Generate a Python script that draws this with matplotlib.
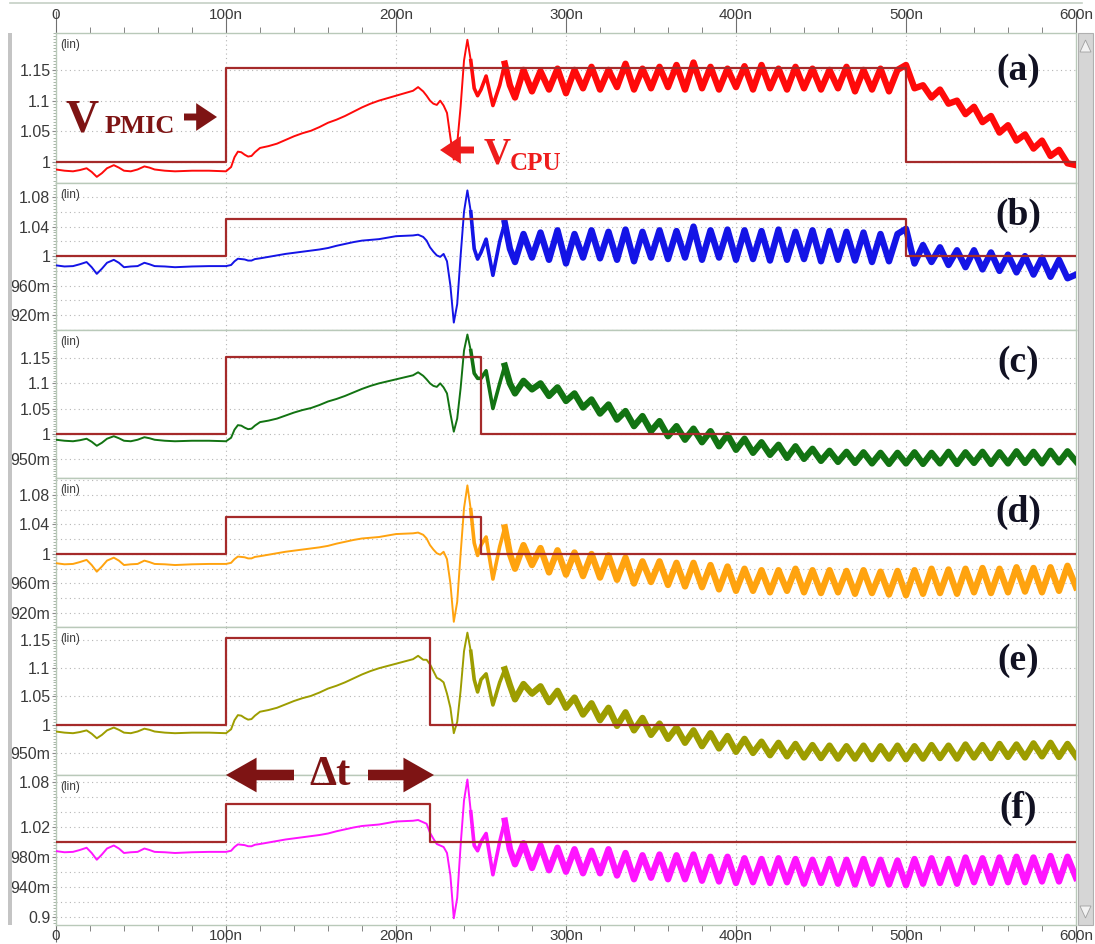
import numpy as np
import matplotlib.pyplot as plt
from matplotlib.ticker import FixedLocator, MultipleLocator, FuncFormatter
from matplotlib.patches import Rectangle, Polygon, FancyArrowPatch

# ---- data (time in ns, voltage in V) ----
early_t = [0, 5, 10, 14, 18, 21, 24, 27, 30, 34, 37, 40, 44, 48, 52, 55, 58, 64, 70, 80, 90,
           100, 103, 105, 107, 109, 111, 113, 115, 117, 120, 125, 130, 135, 140, 145, 150,
           155, 160, 165, 170, 175, 180, 185, 190, 195, 200, 205, 210, 213, 216]
# large PMIC step (a), (c), (e)
early_big = [0.988, 0.986, 0.985, 0.987, 0.990, 0.984, 0.976, 0.982, 0.990, 0.995, 0.991, 0.986,
             0.985, 0.988, 0.993, 0.991, 0.988, 0.986, 0.985, 0.986, 0.986,
             0.985, 0.992, 1.008, 1.017, 1.016, 1.012, 1.009, 1.010, 1.016, 1.023, 1.026, 1.030,
             1.036, 1.042, 1.047, 1.051, 1.057, 1.064, 1.069, 1.075, 1.082, 1.089, 1.095, 1.100,
             1.104, 1.108, 1.112, 1.116, 1.122, 1.115]
# small PMIC step (b), (d), (f)
early_small = [0.9875, 0.986, 0.9865, 0.989, 0.992, 0.985, 0.976, 0.983, 0.991, 0.995, 0.991, 0.985,
               0.986, 0.9865, 0.991, 0.989, 0.9865, 0.986, 0.985, 0.986, 0.9865,
               0.9865, 0.988, 0.993, 0.9965, 0.996, 0.9955, 0.994, 0.994, 0.996, 0.997, 0.999, 1.001,
               1.003, 1.0045, 1.006, 1.0075, 1.009, 1.011, 1.014, 1.0165, 1.019, 1.021, 1.022, 1.023,
               1.025, 1.027, 1.0275, 1.028, 1.029, 1.026]

mid_t = [218, 220, 222, 224, 226, 228, 230, 232, 234, 236, 238, 240, 242, 244, 246, 248,
         250, 253, 257, 261, 264, 267]
mid_a = [1.108, 1.100, 1.095, 1.093, 1.100, 1.092, 1.080, 1.040, 1.004, 1.030, 1.090, 1.165,
         1.199, 1.165, 1.120, 1.108, 1.118, 1.140, 1.092, 1.125, 1.160, 1.125]
mid_b = [1.021, 1.012, 1.006, 1.001, 0.999, 1.003, 0.993, 0.960, 0.910, 0.935, 1.000, 1.060,
         1.089, 1.060, 1.010, 0.996, 1.005, 1.023, 0.974, 1.020, 1.045, 1.010]
mid_c = [1.108, 1.100, 1.095, 1.093, 1.100, 1.092, 1.080, 1.040, 1.004, 1.030, 1.090, 1.165,
         1.197, 1.165, 1.120, 1.110, 1.110, 1.125, 1.050, 1.100, 1.135, 1.100]
mid_d = [1.021, 1.012, 1.006, 1.001, 0.999, 1.003, 0.993, 0.960, 0.908, 0.935, 1.000, 1.062,
         1.093, 1.060, 1.015, 0.998, 1.012, 1.023, 0.966, 1.010, 1.036, 1.000]
mid_e = [1.115, 1.107, 1.095, 1.083, 1.080, 1.075, 1.055, 1.030, 0.985, 1.005, 1.060, 1.130,
         1.163, 1.130, 1.080, 1.058, 1.080, 1.090, 1.035, 1.075, 1.098, 1.070]
mid_f = [1.024, 1.012, 1.004, 0.997, 0.995, 0.993, 0.985, 0.955, 0.898, 0.925, 0.995, 1.055,
         1.083, 1.040, 0.995, 0.988, 1.000, 1.011, 0.956, 1.000, 1.028, 0.990]

late_t = list(range(270, 601, 5))
late_a = [1.105, 1.150, 1.115, 1.148, 1.118, 1.152, 1.112, 1.150, 1.120, 1.155,
          1.118, 1.150, 1.122, 1.160, 1.118, 1.152, 1.120, 1.155, 1.122, 1.158,
          1.118, 1.162, 1.120, 1.155, 1.118, 1.152, 1.122, 1.156, 1.118, 1.158,
          1.120, 1.152, 1.118, 1.155, 1.120, 1.152, 1.118, 1.150, 1.120, 1.155,
          1.115, 1.150, 1.118, 1.152, 1.115, 1.150, 1.158, 1.120, 1.125, 1.105,
          1.118, 1.095, 1.100, 1.078, 1.090, 1.065, 1.075, 1.048, 1.060, 1.035,
          1.045, 1.022, 1.035, 1.010, 1.020, 0.998, 0.995]
late_b = [0.992, 1.030, 0.998, 1.032, 0.995, 1.035, 0.990, 1.030, 0.998, 1.035,
          0.997, 1.033, 0.995, 1.036, 0.993, 1.033, 0.998, 1.035, 0.996, 1.034,
          0.998, 1.040, 0.995, 1.035, 0.998, 1.036, 0.995, 1.035, 0.996, 1.034,
          0.994, 1.036, 0.995, 1.033, 0.996, 1.035, 0.993, 1.034, 0.995, 1.033,
          0.994, 1.032, 0.992, 1.030, 0.993, 1.030, 1.037, 0.990, 1.015, 0.992,
          1.012, 0.988, 1.008, 0.985, 1.008, 0.982, 1.005, 0.980, 1.002, 0.978,
          1.000, 0.975, 0.998, 0.972, 0.995, 0.970, 0.975]
late_c = [1.080, 1.105, 1.088, 1.100, 1.075, 1.092, 1.065, 1.080, 1.052, 1.068,
          1.040, 1.058, 1.028, 1.045, 1.015, 1.035, 1.005, 1.025, 0.995, 1.015,
          0.988, 1.010, 0.983, 1.005, 0.975, 0.998, 0.968, 0.990, 0.962, 0.983,
          0.958, 0.978, 0.952, 0.975, 0.950, 0.970, 0.946, 0.966, 0.944, 0.964,
          0.942, 0.963, 0.941, 0.962, 0.940, 0.962, 0.941, 0.963, 0.940, 0.962,
          0.941, 0.964, 0.940, 0.963, 0.942, 0.964, 0.940, 0.963, 0.941, 0.965,
          0.942, 0.964, 0.941, 0.966, 0.943, 0.965, 0.945]
late_d = [0.980, 1.012, 0.985, 1.008, 0.975, 1.005, 0.972, 1.002, 0.970, 1.000,
          0.968, 0.998, 0.965, 0.995, 0.960, 0.990, 0.962, 0.990, 0.958, 0.988,
          0.956, 0.988, 0.955, 0.985, 0.952, 0.983, 0.950, 0.980, 0.950, 0.978,
          0.948, 0.978, 0.950, 0.980, 0.948, 0.978, 0.947, 0.978, 0.948, 0.977,
          0.946, 0.978, 0.947, 0.976, 0.945, 0.977, 0.944, 0.978, 0.946, 0.980,
          0.947, 0.979, 0.946, 0.980, 0.948, 0.981, 0.947, 0.980, 0.948, 0.982,
          0.949, 0.981, 0.948, 0.982, 0.950, 0.984, 0.955]
late_e = [1.045, 1.072, 1.055, 1.068, 1.040, 1.060, 1.030, 1.048, 1.018, 1.038,
          1.008, 1.030, 0.998, 1.022, 0.990, 1.012, 0.982, 1.002, 0.975, 0.995,
          0.968, 0.990, 0.962, 0.985, 0.958, 0.980, 0.952, 0.975, 0.950, 0.970,
          0.946, 0.968, 0.944, 0.966, 0.942, 0.964, 0.941, 0.963, 0.940, 0.962,
          0.940, 0.963, 0.939, 0.962, 0.940, 0.963, 0.939, 0.962, 0.940, 0.964,
          0.941, 0.963, 0.940, 0.965, 0.942, 0.964, 0.941, 0.966, 0.943, 0.965,
          0.942, 0.967, 0.944, 0.968, 0.943, 0.966, 0.944]
late_f = [0.970, 0.998, 0.965, 0.995, 0.962, 0.992, 0.960, 0.990, 0.958, 0.988,
          0.958, 0.990, 0.955, 0.985, 0.950, 0.982, 0.952, 0.983, 0.950, 0.982,
          0.950, 0.983, 0.948, 0.980, 0.947, 0.980, 0.945, 0.978, 0.946, 0.977,
          0.945, 0.978, 0.946, 0.977, 0.944, 0.976, 0.945, 0.977, 0.944, 0.976,
          0.943, 0.977, 0.944, 0.976, 0.943, 0.975, 0.942, 0.977, 0.944, 0.978,
          0.945, 0.977, 0.944, 0.979, 0.946, 0.978, 0.945, 0.979, 0.946, 0.980,
          0.946, 0.979, 0.947, 0.981, 0.947, 0.980, 0.952]

# PMIC reference steps (steps-post)
pmic_t = {'a': [0, 100, 500, 600], 'b': [0, 100, 500, 600],
          'c': [0, 100, 250, 600], 'd': [0, 100, 250, 600],
          'e': [0, 100, 220, 600], 'f': [0, 100, 220, 600]}
pmic_v = {'a': [1.0, 1.153, 1.0, 1.0], 'b': [1.0, 1.05, 1.0, 1.0],
          'c': [1.0, 1.153, 1.0, 1.0], 'd': [1.0, 1.05, 1.0, 1.0],
          'e': [1.0, 1.153, 1.0, 1.0], 'f': [1.0, 1.05, 1.0, 1.0]}

colors = {'a': '#ff0a0a', 'b': '#1414e6', 'c': '#127312', 'd': '#ffa30f',
          'e': '#9d9d00', 'f': '#ff14ff'}
early = {'a': early_big, 'c': early_big, 'e': early_big,
         'b': early_small, 'd': early_small, 'f': early_small}
mids = {'a': mid_a, 'b': mid_b, 'c': mid_c, 'd': mid_d, 'e': mid_e, 'f': mid_f}
lates = {'a': late_a, 'b': late_b, 'c': late_c, 'd': late_d, 'e': late_e, 'f': late_f}

ylims = {'a': (0.966, 1.21), 'b': (0.90, 1.099), 'c': (0.912, 1.206),
         'd': (0.901, 1.103), 'e': (0.911, 1.173), 'f': (0.889, 1.089)}
yticks = {'a': [1.0, 1.05, 1.1, 1.15], 'b': [0.92, 0.96, 1.0, 1.04, 1.08],
          'c': [0.95, 1.0, 1.05, 1.1, 1.15], 'd': [0.92, 0.96, 1.0, 1.04, 1.08],
          'e': [0.95, 1.0, 1.05, 1.1, 1.15], 'f': [0.9, 0.94, 0.98, 1.02, 1.08]}
ylabels = {'a': ['1', '1.05', '1.1', '1.15'], 'b': ['920m', '960m', '1', '1.04', '1.08'],
           'c': ['950m', '1', '1.05', '1.1', '1.15'], 'd': ['920m', '960m', '1', '1.04', '1.08'],
           'e': ['950m', '1', '1.05', '1.1', '1.15'], 'f': ['0.9', '940m', '980m', '1.02', '1.08']}

W, H = 1095, 944
fig = plt.figure(figsize=(W / 100, H / 100), dpi=100)
fig.patch.set_facecolor('white')

def fx(x):
    return x / W

def fy(y):
    return 1 - y / H

edges = [33, 183, 330, 478, 627, 775, 925]
left, right = 56, 1076
names = ['a', 'b', 'c', 'd', 'e', 'f']
label_y = [70, 215, 362, 512, 660, 808]
spine_col = '#b9c9b9'
txt_col = '#3a3a3a'
nfmt = FuncFormatter(lambda x, p: '0' if abs(x) < 1e-9 else '%dn' % round(x))

for i, k in enumerate(names):
    top, bot = edges[i], edges[i + 1]
    ax = fig.add_axes([fx(left), fy(bot), fx(right - left), (bot - top) / H])
    ax.set_xlim(0, 600)
    ax.set_ylim(*ylims[k])

    t = np.array(early_t + mid_t + late_t, dtype=float)
    v = np.array(early[k] + mids[k] + lates[k], dtype=float)
    ax.plot(t, v, color=colors[k], lw=1.4, zorder=3)
    ring = t >= 244
    ax.plot(t[ring], v[ring], color=colors[k], lw=2.6, zorder=3)
    thick = t >= 264
    ax.plot(t[thick], v[thick], color=colors[k], lw=4.6, zorder=3)
    ax.plot(pmic_t[k], pmic_v[k], drawstyle='steps-post', color='#a52a2a', lw=1.6, zorder=4)

    # grid
    ax.xaxis.set_major_locator(MultipleLocator(100))
    ax.xaxis.set_minor_locator(MultipleLocator(20))
    ax.xaxis.set_major_formatter(nfmt)
    ax.yaxis.set_major_locator(FixedLocator(yticks[k]))
    if k in ('b', 'd', 'f'):
        gy = np.arange(0.90, 1.10, 0.02)
    else:
        gy = np.array(yticks[k])
    for g in gy:
        ax.axhline(g, color='#b5b5b5', lw=0.8, ls=(0, (1, 3)), zorder=1)
    for g in range(100, 600, 100):
        ax.axvline(g, color='#b5b5b5', lw=0.8, ls=(0, (1, 3)), zorder=1)

    ax.set_yticklabels(ylabels[k], fontsize=11.5, color=txt_col, family='Liberation Sans')
    ax.yaxis.set_minor_locator(MultipleLocator(0.004 if k in ('b', 'd', 'f') else 0.005))
    ax.tick_params(axis='y', which='major', length=3, color='#8a8a8a', pad=1)
    ax.tick_params(axis='y', which='minor', length=2, color='#9aaa9a')

    if i == 0:
        ax.xaxis.set_ticks_position('top')
        ax.tick_params(axis='x', which='major', length=16, color='#707070', pad=-8,
                       labelsize=11, labelcolor=txt_col, top=True, bottom=False,
                       labeltop=True, labelbottom=False)
        ax.tick_params(axis='x', which='minor', length=4, color='#707070', top=True, bottom=False)
    elif i == len(names) - 1:
        ax.tick_params(axis='x', which='major', length=12, color='#707070', pad=-9,
                       labelsize=11, labelcolor=txt_col)
        ax.tick_params(axis='x', which='minor', length=4, color='#707070')
    else:
        ax.tick_params(axis='x', which='both', bottom=False, top=False, labelbottom=False)
    for lab in ax.get_xticklabels():
        lab.set_family('Liberation Sans')

    for s in ax.spines.values():
        s.set_color(spine_col)
        s.set_linewidth(1.0)

    ax.text(0.004, 1 - 12 / (bot - top), '(lin)', transform=ax.transAxes, fontsize=8.5,
            color=txt_col, va='center', ha='left', family='Liberation Sans')
    fig.text(fx(1018), fy(label_y[i]), '(%s)' % k, fontsize=27, fontweight='bold',
             family='Liberation Serif', ha='center', va='center', color='#111122')

# annotations
dark = '#7e1414'
fig.text(fx(66), fy(131), 'V', fontsize=33, fontweight='bold', family='Liberation Serif',
         color=dark, va='baseline')
fig.text(fx(105), fy(133), 'PMIC', fontsize=19, fontweight='bold', family='Liberation Serif',
         color=dark, va='baseline')
fig.text(fx(484), fy(163), 'V', fontsize=27, fontweight='bold', family='Liberation Serif',
         color='#ee1c1c', va='baseline')
fig.text(fx(510), fy(170), 'CPU', fontsize=18, fontweight='bold', family='Liberation Serif',
         color='#ee1c1c', va='baseline')
fig.text(fx(330), fy(775), '\u0394t', fontsize=31, fontweight='bold', family='Liberation Serif',
         color=dark, ha='center', va='center')

def arrow(x0, y0, x1, y1, col, tw, hw, hl):
    fig.add_artist(FancyArrowPatch(
        (fx(x0), fy(y0)), (fx(x1), fy(y1)), transform=fig.transFigure,
        arrowstyle='simple,tail_width=%g,head_width=%g,head_length=%g' % (tw, hw, hl),
        mutation_scale=20, color=col, lw=0, shrinkA=0, shrinkB=0))

arrow(184, 117, 217, 117, dark, 0.25, 1.0, 0.75)
arrow(474, 150, 440, 150, '#ee1c1c', 0.25, 1.0, 0.75)
arrow(294, 775, 226, 775, dark, 0.38, 1.25, 1.1)
arrow(368, 775, 434, 775, dark, 0.38, 1.25, 1.1)

# window chrome: scrollbar, left edge, top border
fig.add_artist(Rectangle((fx(1078), fy(925)), fx(15), (925 - 33) / H, transform=fig.transFigure,
                         facecolor='#d6d6d6', edgecolor='#b0b0b0', lw=0.8))
fig.add_artist(Polygon([[fx(1080), fy(52)], [fx(1091), fy(52)], [fx(1085.5), fy(40)]],
                       transform=fig.transFigure, facecolor='#f2f2f2', edgecolor='#a0a0a0', lw=0.6))
fig.add_artist(Polygon([[fx(1080), fy(906)], [fx(1091), fy(906)], [fx(1085.5), fy(918)]],
                       transform=fig.transFigure, facecolor='#f2f2f2', edgecolor='#a0a0a0', lw=0.6))
fig.add_artist(Rectangle((fx(8), fy(925)), fx(4), (925 - 33) / H, transform=fig.transFigure,
                         facecolor='#c4c4c4', edgecolor='none'))
fig.add_artist(plt.Line2D([fx(10), fx(1082)], [fy(3), fy(3)], transform=fig.transFigure,
                          color='#c5d0c5', lw=1.2))

fig.savefig('out.png', dpi=100)
